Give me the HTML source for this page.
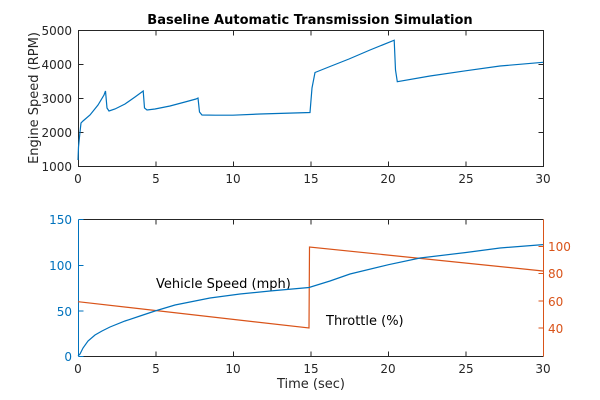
<!DOCTYPE html>
<html><head><style>body{margin:0;background:#fff}svg{display:block}text{font-family:"DejaVu Sans","Liberation Sans",sans-serif;font-size:12px;fill:#262626}</style></head>
<body>
<svg width="600" height="400" viewBox="0 0 600 400">
<rect width="600" height="400" fill="#fff"/>
<text x="310" y="24" text-anchor="middle" style="font-weight:bold;font-size:13px;fill:#000">Baseline Automatic Transmission Simulation</text>
<g stroke="#262626" stroke-width="1" fill="none">
<rect x="78.5" y="30.5" width="465" height="136"/>
<path d="M78.5 166.5v-5M156 166.5v-5M233.5 166.5v-5M311 166.5v-5M388.5 166.5v-5M466 166.5v-5M543.5 166.5v-5
M78.5 30.5v5M156 30.5v5M233.5 30.5v5M311 30.5v5M388.5 30.5v5M466 30.5v5
M78.5 30.5h5M78.5 64.5h5M78.5 98.5h5M78.5 132.5h5M78.5 166.5h5
M543.5 30.5h-5M543.5 64.5h-5M543.5 98.5h-5M543.5 132.5h-5"/>
</g>
<g text-anchor="end"><text x="72" y="35">5000</text><text x="72" y="69">4000</text><text x="72" y="103">3000</text><text x="72" y="137">2000</text><text x="72" y="171">1000</text></g>
<g text-anchor="middle"><text x="78" y="183">0</text><text x="156" y="183">5</text><text x="233" y="183">10</text><text x="311" y="183">15</text><text x="388" y="183">20</text><text x="466" y="183">25</text><text x="543" y="183">30</text></g>
<text transform="translate(38,98) rotate(-90)" text-anchor="middle" style="font-size:13px">Engine Speed (RPM)</text>
<polyline fill="none" stroke="#0072BD" stroke-width="1.2" points="78,160 78.5,147 80,132 81,123 83,121 90,115 98,105 104,95 105.5,91 107,108 109,111 115,109 125,104 135,97 143.2,91 144.5,108 147,110 155,109 170,106 185,102 196,99 198,98 199.5,112 202,115 215,115.2 233,115.2 260,114 310,112.5 312,88 315,72.5 330,66.5 349,59 370,50 394.2,40.2 395.5,70 397.3,81.7 430,76 465.5,70.8 500,66 543,62.3"/>
<g stroke="#262626" stroke-width="1" fill="none">
<path d="M78.5 356.5h465M78.5 219.5h465"/>
<path d="M78.5 356.5v-5M156 356.5v-5M233.5 356.5v-5M311 356.5v-5M388.5 356.5v-5M466 356.5v-5M543.5 356.5v-5
M78.5 219.5v5M156 219.5v5M233.5 219.5v5M311 219.5v5M388.5 219.5v5M466 219.5v5M543.5 219.5v5"/>
</g>
<g stroke="#0072BD" fill="none"><path d="M78.5 219.5v137M78.5 219.5h5M78.5 265.5h5M78.5 311h5M78.5 356.5h5"/></g>
<g stroke="#D95319" fill="none"><path d="M543.5 219.5v137M543.5 246.5h-5M543.5 273.5h-5M543.5 301h-5M543.5 328h-5"/></g>
<g text-anchor="end"><text x="72" y="224" style="fill:#0072BD">150</text><text x="72" y="270" style="fill:#0072BD">100</text><text x="72" y="316" style="fill:#0072BD">50</text><text x="72" y="361" style="fill:#0072BD">0</text></g>
<g><text x="548" y="251" style="fill:#D95319">100</text><text x="548" y="278" style="fill:#D95319">80</text><text x="548" y="306" style="fill:#D95319">60</text><text x="548" y="333" style="fill:#D95319">40</text></g>
<g text-anchor="middle"><text x="78" y="373">0</text><text x="156" y="373">5</text><text x="233" y="373">10</text><text x="311" y="373">15</text><text x="388" y="373">20</text><text x="466" y="373">25</text><text x="543" y="373">30</text><text x="311" y="388" style="font-size:13px">Time (sec)</text></g>
<text x="156" y="288" style="font-size:13px;fill:#000">Vehicle Speed (mph)</text>
<text x="326" y="325" style="font-size:13px;fill:#000">Throttle (%)</text>
<polyline fill="none" stroke="#D95319" stroke-width="1.2" points="78,301.7 309,328 309.5,247 543,271"/>
<polyline fill="none" stroke="#0072BD" stroke-width="1.2" points="78,356 80,354 83,348 88,341 95,335 102,331 110,327 125,321 140,316 155,311 175,305 195,301 210,298 240,294 270,291 309,287.5 330,281 350,274 388.5,264.7 420,258 466,252.5 500,248 543,244.6"/>
</svg>
</body></html>
